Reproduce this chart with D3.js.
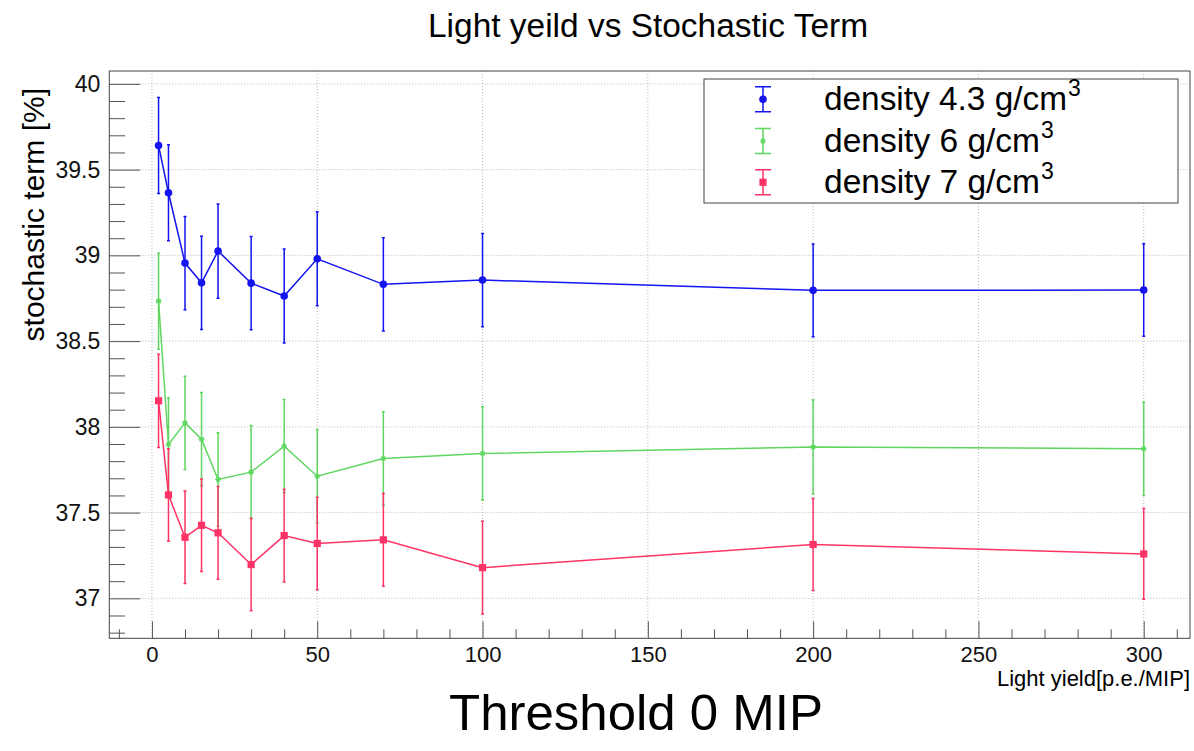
<!DOCTYPE html>
<html>
<head>
<meta charset="utf-8">
<script src="https://cdn.jsdelivr.net/npm/d3@7"></script>
<style>
  html, body { margin: 0; padding: 0; background: #fff; }
  svg { display: block; font-family: "Liberation Sans", Arial, Helvetica, sans-serif; }
</style>
</head>
<body>
<svg id="chart" width="1194" height="751"></svg>
<script>
// Light yield points (p.e./MIP)
const lightYield = [2, 5, 10, 15, 20, 30, 40, 50, 70, 100, 200, 300];

// Stochastic term [%] for each crystal density, with errors
const density43 = [39.64, 39.365, 38.955, 38.84, 39.025, 38.838, 38.763, 38.98, 38.831, 38.856, 38.796, 38.798];
const density43Err = [0.28, 0.28, 0.272, 0.272, 0.275, 0.272, 0.274, 0.274, 0.272, 0.272, 0.27, 0.27];

const density6 = [38.733, 37.897, 38.023, 37.928, 37.693, 37.736, 37.887, 37.712, 37.816, 37.845, 37.883, 37.872];
const density6Err = [0.28, 0.272, 0.272, 0.272, 0.272, 0.272, 0.272, 0.272, 0.272, 0.272, 0.273, 0.272];

const density7 = [38.152, 37.603, 37.356, 37.426, 37.382, 37.197, 37.366, 37.32, 37.341, 37.179, 37.314, 37.259];
const density7Err = [0.272, 0.27, 0.27, 0.27, 0.27, 0.27, 0.27, 0.27, 0.27, 0.27, 0.268, 0.265];

const seriesNames = ["density 4.3 g/cm", "density 6 g/cm", "density 7 g/cm"];

const yMajorTicks = [37, 37.5, 38, 38.5, 39, 39.5, 40];
const xMajorTicks = [0, 50, 100, 150, 200, 250, 300];

const titleText = "Light yeild vs Stochastic Term";
const xTitle = "Light yield[p.e./MIP]";
const yTitle = "stochastic term [%]";
const caption = "Threshold 0 MIP";

const series = [
  { name: seriesNames[0], values: density43, errs: density43Err, color: "#1414f0", marker: "circle" },
  { name: seriesNames[1], values: density6, errs: density6Err, color: "#5fd65f", marker: "star" },
  { name: seriesNames[2], values: density7, errs: density7Err, color: "#ff3366", marker: "square" }
];

const svg = d3.select("#chart");
const frame = { left: 109.3, right: 1190, top: 71, bottom: 638.3 };

const x = d3.scaleLinear().domain([-12.9, 314]).range([frame.left, frame.right]);
const y = d3.scaleLinear().domain([36.767, 40.075]).range([frame.bottom, frame.top]);

// grid
const grid = svg.append("g").attr("stroke", "#b8b8b8").attr("stroke-dasharray", "1,2").attr("stroke-width", 1);
grid.selectAll("line.gx").data(xMajorTicks).join("line")
  .attr("x1", d => x(d)).attr("x2", d => x(d))
  .attr("y1", frame.top).attr("y2", frame.bottom);
grid.selectAll("line.gy").data(yMajorTicks).join("line")
  .attr("x1", frame.left).attr("x2", frame.right)
  .attr("y1", d => y(d)).attr("y2", d => y(d));

// axes with inward ticks
const tickColor = "#555";
const yMinor = d3.range(36.8, 40.06, 0.1).map(v => +v.toFixed(1)).filter(v => !yMajorTicks.includes(v));
const xMinor = d3.range(-10, 311, 10).filter(v => !xMajorTicks.includes(v));

const yMinorAxis = svg.append("g").attr("transform", `translate(${frame.left},0)`)
  .call(d3.axisLeft(y).tickValues(yMinor).tickSize(-15.7).tickFormat(""));
const yAxis = svg.append("g").attr("transform", `translate(${frame.left},0)`)
  .call(d3.axisLeft(y).tickValues(yMajorTicks).tickSize(-31).tickPadding(9).tickFormat(d3.format("")));
const xMinorAxis = svg.append("g").attr("transform", `translate(0,${frame.bottom})`)
  .call(d3.axisBottom(x).tickValues(xMinor).tickSize(-9).tickFormat(""));
const xAxis = svg.append("g").attr("transform", `translate(0,${frame.bottom})`)
  .call(d3.axisBottom(x).tickValues(xMajorTicks).tickSize(-17).tickPadding(8).tickFormat(d3.format("")));

[yMinorAxis, yAxis, xMinorAxis, xAxis].forEach(g => {
  g.select(".domain").remove();
  g.selectAll(".tick line").attr("stroke", tickColor).attr("stroke-width", 1);
});
yAxis.selectAll(".tick text").attr("font-size", 23).attr("fill", "#111").attr("font-family", "Liberation Sans, Arial, sans-serif").attr("dy", "0.33em");
xAxis.selectAll(".tick text").attr("font-size", 22).attr("fill", "#111").attr("font-family", "Liberation Sans, Arial, sans-serif");

// frame
svg.append("rect")
  .attr("x", frame.left).attr("y", frame.top)
  .attr("width", frame.right - frame.left).attr("height", frame.bottom - frame.top)
  .attr("fill", "none").attr("stroke", "#444").attr("stroke-width", 1);

// markers
function drawMarker(g, type, color, cx, cy) {
  if (type === "circle") {
    g.append("circle").attr("cx", cx).attr("cy", cy).attr("r", 3.8).attr("fill", color);
  } else if (type === "square") {
    g.append("rect").attr("x", cx - 3.6).attr("y", cy - 3.6).attr("width", 7.2).attr("height", 7.2).attr("fill", color);
  } else {
    const s = 3;
    g.append("path")
      .attr("d", `M${cx - s},${cy}H${cx + s}M${cx},${cy - s}V${cy + s}M${cx - s * 0.7},${cy - s * 0.7}L${cx + s * 0.7},${cy + s * 0.7}M${cx - s * 0.7},${cy + s * 0.7}L${cx + s * 0.7},${cy - s * 0.7}`)
      .attr("stroke", color).attr("stroke-width", 1.2).attr("fill", "none");
  }
}

const line = d3.line().x(d => x(d[0])).y(d => y(d[1]));

series.forEach(s => {
  const g = svg.append("g");
  const pts = lightYield.map((lx, i) => [lx, s.values[i], s.errs[i]]);
  // error bars
  g.selectAll("path.err").data(pts).join("path")
    .attr("d", d => {
      const cx = x(d[0]), t = y(d[1] + d[2]), b = y(d[1] - d[2]);
      return `M${cx},${t}V${b}M${cx - 1.5},${t}H${cx + 1.5}M${cx - 1.5},${b}H${cx + 1.5}`;
    })
    .attr("stroke", s.color).attr("stroke-width", 1.5).attr("fill", "none");
  g.append("path").datum(pts).attr("d", line)
    .attr("stroke", s.color).attr("stroke-width", 1.5).attr("fill", "none");
  pts.forEach(d => drawMarker(g, s.marker, s.color, x(d[0]), y(d[1])));
});

// legend
const legend = svg.append("g");
legend.append("rect").attr("x", 704).attr("y", 79).attr("width", 474).attr("height", 124)
  .attr("fill", "#fff").attr("stroke", "#444").attr("stroke-width", 1);
const rowY = [99.3, 141, 182.3];
const textLen = [243, 216, 216];
series.forEach((s, i) => {
  const cy = rowY[i], cx = 763;
  legend.append("path")
    .attr("d", `M${cx},${cy - 12.5}V${cy + 12.5}M${cx - 8},${cy - 12.5}H${cx + 8}M${cx - 8},${cy + 12.5}H${cx + 8}`)
    .attr("stroke", s.color).attr("stroke-width", 1.5).attr("fill", "none");
  drawMarker(legend, s.marker, s.color, cx, cy);
  legend.append("text").attr("x", 824).attr("y", cy + 11)
    .attr("font-size", 33).attr("fill", "#000")
    .attr("textLength", textLen[i]).attr("lengthAdjust", "spacingAndGlyphs")
    .text(s.name);
  legend.append("text").attr("x", 824 + textLen[i] + 1).attr("y", cy - 3)
    .attr("font-size", 23).attr("fill", "#000")
    .text("3");
});

// titles
svg.append("text").attr("x", 648).attr("y", 37).attr("text-anchor", "middle")
  .attr("font-size", 33).attr("fill", "#000")
  .attr("textLength", 440).attr("lengthAdjust", "spacingAndGlyphs")
  .text(titleText);

svg.append("text").attr("transform", "translate(44,88) rotate(-90)")
  .attr("text-anchor", "end").attr("font-size", 30).attr("fill", "#000")
  .text(yTitle);

svg.append("text").attr("x", 1190).attr("y", 686).attr("text-anchor", "end")
  .attr("font-size", 22).attr("fill", "#000")
  .attr("textLength", 193).attr("lengthAdjust", "spacingAndGlyphs")
  .text(xTitle);

svg.append("text").attr("x", 636).attr("y", 730).attr("text-anchor", "middle")
  .attr("font-size", 50).attr("fill", "#000")
  .attr("textLength", 374).attr("lengthAdjust", "spacingAndGlyphs")
  .text(caption);
</script>
</body>
</html>
